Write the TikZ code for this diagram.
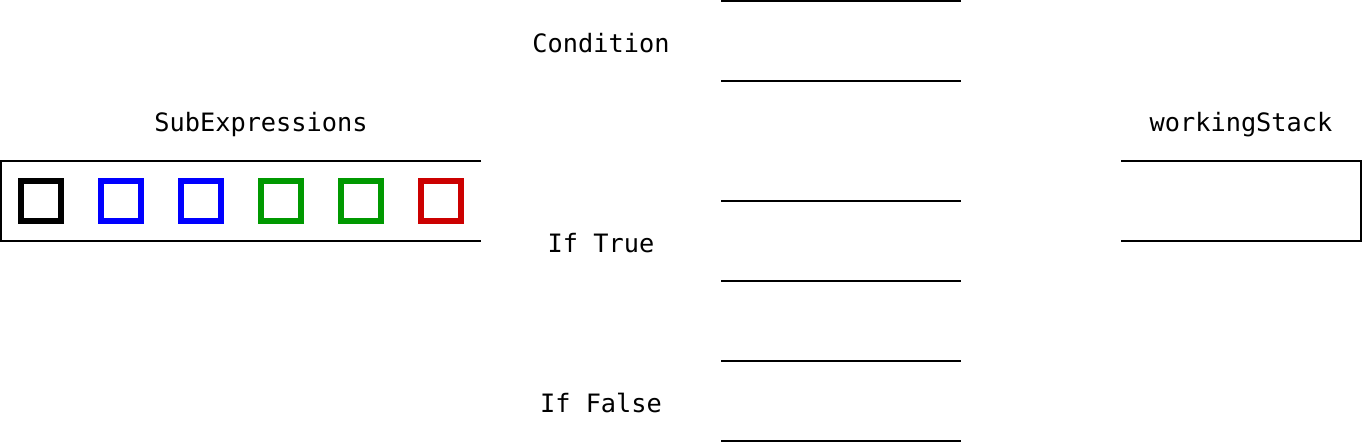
\documentclass[tikz,border=0pt]{standalone}
\usepackage{fontspec}
\setmonofont{DejaVu Sans Mono}
\definecolor{exprblue}{RGB}{0,0,255}
\definecolor{exprgreen}{RGB}{0,153,0}
\definecolor{exprred}{RGB}{204,0,0}
\tikzset{
  lbl/.style={font=\ttfamily\fontsize{18}{22}\selectfont},
  expr/.style={draw=#1, line width=4pt, minimum size=1cm, inner sep=0pt}
}
\begin{document}
\begin{tikzpicture}[x=1cm,y=-1cm,line width=1.4pt]
\useasboundingbox (-0.025,-0.025) rectangle (34.025,11.025);
% SubExpressions
\node[lbl] (subexpr) at (6.5,3.1) {SubExpressions};
\draw (12,4) -- (0,4) -- (0,6) -- (12,6);
\foreach \c [count=\i] in {black,exprblue,exprblue,exprgreen,exprgreen,exprred}
  \node[expr=\c] (e\i) at (2*\i-1,5) {};
% Condition / If True / If False
\node[lbl] (cond) at (15,1.06) {Condition};
\node[lbl] (iftrue) at (15,6.06) {If True};
\node[lbl] (iffalse) at (15,10.06) {If False};
\foreach \y in {0,2,5,7,9,11}
  \draw (18,\y) -- (24,\y);
% workingStack
\node[lbl] (stack) at (31,3.1) {workingStack};
\draw (28,4) -- (34,4) -- (34,6) -- (28,6);
\end{tikzpicture}
\end{document}
